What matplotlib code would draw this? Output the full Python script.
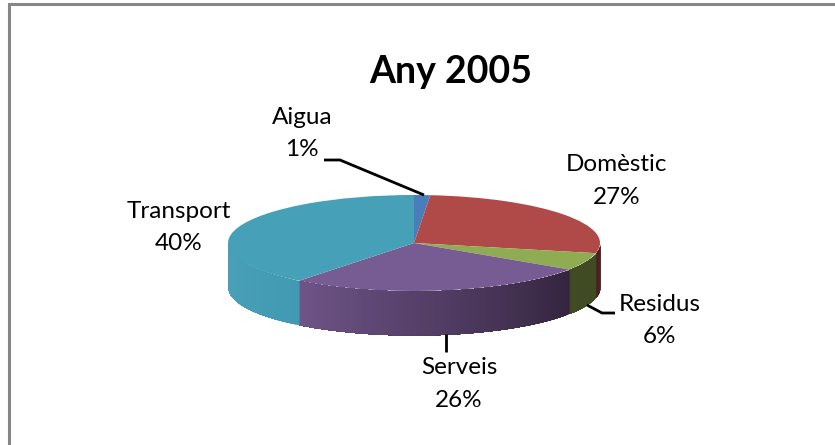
import numpy as np
import matplotlib
matplotlib.use("Agg")
import matplotlib.pyplot as plt
from matplotlib.colors import to_rgb

title = "Any 2005"
categories = ["Aigua", "Domèstic", "Residus", "Serveis", "Transport"]
values = [1.4, 27.0, 5.9, 26.3, 39.4]
shown_pct = ["1%", "27%", "6%", "26%", "40%"]
top_colors = ["#4A7EBB", "#B04A48", "#8FAC52", "#775C93", "#46A0B8"]
side_left = ["#2C4A70", "#4A1E1E", "#404B23", "#6E5488", "#4AA2B9"]
side_right = ["#2C4A70", "#5A2626", "#404B23", "#34243E", "#429AB2"]
label_xy = [(302, 133.5), (617, 181), (660, 320.5), (459, 384), (179, 227.5)]
leaders = [[(324, 160), (340, 160), (424, 195)],
           [(587, 305), (602, 313), (615, 313)],
           [(445.5, 334), (445.5, 352)]]

W, H = 835, 445
fig = plt.figure(figsize=(W / 100, H / 100), dpi=100, facecolor="white")
plt.rcParams["font.family"] = ["Lato", "DejaVu Sans"]

# pixel overlay
ov = fig.add_axes([0, 0, 1, 1], zorder=3)
ov.set_xlim(0, W); ov.set_ylim(H, 0); ov.axis("off"); ov.patch.set_alpha(0)

# pie axes: ellipse spans x 228..600, y 195..291
ax = fig.add_axes([228 / W, (H - 291) / H, 372 / W, 96 / H], zorder=2)
ax.pie(values, startangle=90, counterclock=False, colors=top_colors, radius=1,
       wedgeprops=dict(linewidth=0), normalize=True)
ax.set_aspect("auto")
ax.set_xlim(-1, 1); ax.set_ylim(-1, 1)
depth = 44 / 48

# side wall, front half only; each strip runs on to the wedge end so no seams show
edges = np.concatenate([[0], np.cumsum(values)]) / np.sum(values) * 360
for i in range(len(values)):
    a0, a1 = max(edges[i], 90), min(edges[i + 1], 270)
    if a1 <= a0:
        continue
    n = max(2, int((a1 - a0) * 1.5))
    t = np.radians(np.linspace(a0, a1, n + 1))
    cr, cl = np.array(to_rgb(side_right[i])), np.array(to_rgb(side_left[i]))
    for k in range(n):
        f = k / max(n - 1, 1)
        c = cr * (1 - f) + cl * f
        tt = t[k:]
        ax.fill_between(np.sin(tt), np.cos(tt), np.cos(tt) - depth, color=c,
                        linewidth=0, clip_on=False, zorder=0 + i * 0.01)

# outer frame (top and left only)
ov.plot([8.5, 8.5, W], [H, 3.5, 3.5], color="#868686", lw=2.2, solid_joinstyle="miter")

for pts in leaders:
    xs, ys = zip(*pts)
    ov.plot(xs, ys, color="black", lw=2.0, solid_joinstyle="miter", solid_capstyle="butt")

for name, pct, (x, y) in zip(categories, shown_pct, label_xy):
    ov.text(x, y, f"{name}\n{pct}", ha="center", va="center", fontsize=17.5,
            color="black", linespacing=1.66)

ov.text(451, 72, title, ha="center", va="center", fontsize=27, fontweight="bold", color="black")

fig.savefig("out.png", dpi=100, facecolor="white")
